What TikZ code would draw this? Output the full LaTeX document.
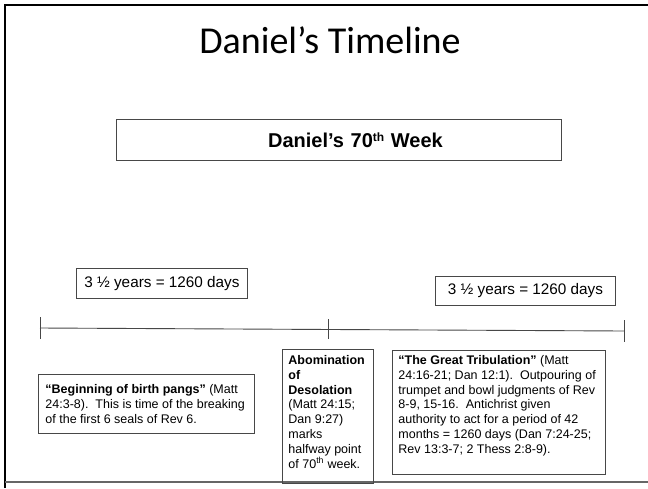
\documentclass[tikz,border=0pt]{standalone}
\usepackage{fontspec}
\setmainfont{Liberation Sans}
\newfontfamily\titlefont{Carlito}
\begin{document}
\begin{tikzpicture}[x=1pt,y=-1pt,
  frameline/.style={line width=2.4pt, draw=black},
  ln/.style={draw=black!72, line width=0.9pt},
  bx/.style={ln, anchor=north west, inner sep=0pt},
  small/.style={font=\fontsize{12.5}{14.8}\selectfont},
  yrs/.style={font=\fontsize{15.3}{18}\selectfont}]
\useasboundingbox (0,0) rectangle (648,488);
\fill[white] (0,0) rectangle (648,488);
% slide frame
\coordinate (fl) at (5,488);
\coordinate (fc) at (5,5);
\coordinate (fr) at (648,5);
\draw[frameline] (fl) -- (fc) -- (fr);
\coordinate (bl) at (5,482);
\coordinate (br) at (648,482);
\draw[draw=black!60, line width=1.1pt] (bl) -- (br);
% title
\node[font=\titlefont\fontsize{38}{42}\selectfont] (title) at (330,40) {Daniel’s Timeline};
% 70th week box
\node[bx, minimum width=445pt, minimum height=41pt, align=center, text width=445pt,
      font=\bfseries\fontsize{20}{24}\selectfont] (week) at (116,119)
      {\hspace*{33pt}Daniel’s 70{\fontsize{12}{12}\selectfont\raisebox{6pt}{th}} Week};
% 3 1/2 years boxes
\node[bx, yrs, minimum width=171pt, minimum height=30pt] (y1) at (76,268) {3 ½ years = 1260 days};
\node[bx, yrs, minimum width=180pt, minimum height=29pt] (y2) at (435,276) {3 ½ years = 1260 days};
% timeline
\coordinate (tl) at (40,328);
\coordinate (tm) at (328,329);
\coordinate (tr) at (624,331);
\draw[ln] (tl) -- (tr);
\draw[ln] ([yshift=11pt]tl) -- ([yshift=-11pt]tl);
\draw[ln] ([yshift=10pt]tm) -- ([yshift=-10pt]tm);
\draw[ln] ([yshift=11pt]tr) -- ([yshift=-11pt]tr);
% lower boxes
\node[bx, small, inner xsep=7pt, inner ysep=6pt] (b1) at (38,374)
  {\parbox[c][47pt][c]{202pt}{\raggedright
   \textbf{“Beginning of birth pangs”} (Matt\\
   24:3-8).\ \ This is time of the breaking\\
   of the first 6 seals of Rev 6.}};
\node[bx, small, inner xsep=6pt, inner ysep=6pt] (b2) at (282,349)
  {\parbox[c][122pt][t]{79pt}{\raggedright
   \textbf{Abomination}\\
   \textbf{of}\\
   \textbf{Desolation}\\
   (Matt 24:15;\\
   Dan 9:27)\\
   marks\\
   halfway point\\
   of 70\textsuperscript{th} week.}};
\node[bx, small, inner xsep=6pt, inner ysep=5pt] (b3) at (392,350)
  {\parbox[c][114pt][t]{201pt}{\raggedright
   \textbf{“The Great Tribulation”} (Matt\\
   24:16-21; Dan 12:1).\ \ Outpouring of\\
   trumpet and bowl judgments of Rev\\
   8-9, 15-16.\ \ Antichrist given\\
   authority to act for a period of 42\\
   months = 1260 days (Dan 7:24-25;\\
   Rev 13:3-7; 2 Thess 2:8-9).}};
\end{tikzpicture}
\end{document}
